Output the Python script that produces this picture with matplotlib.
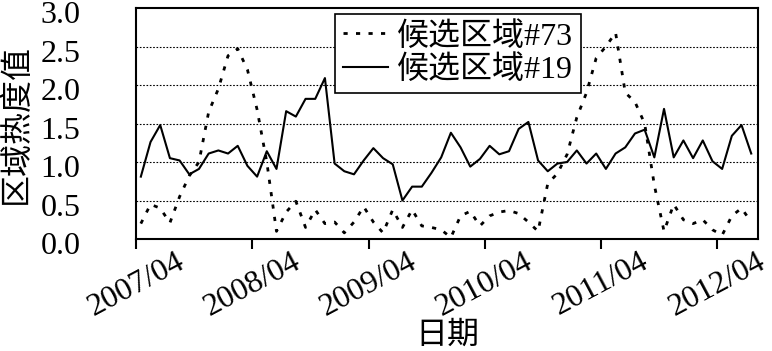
import matplotlib
matplotlib.use("Agg")
import matplotlib.pyplot as plt
from matplotlib.transforms import ScaledTranslation

plt.rcParams['font.family'] = ['Liberation Serif', 'Noto Sans CJK SC']
plt.rcParams['font.size'] = 23

# monthly values, first point mid 2007/04
region73 = [0.20, 0.45, 0.40, 0.21, 0.55, 0.82, 1.00, 1.65, 1.95, 2.38,
            2.47, 2.20, 1.68, 1.00, 0.10, 0.35, 0.49, 0.15, 0.38, 0.20,
            0.22, 0.08, 0.22, 0.42, 0.22, 0.08, 0.38, 0.15, 0.38, 0.17,
            0.15, 0.12, 0.02, 0.30, 0.36, 0.17, 0.30, 0.35, 0.37, 0.33,
            0.22, 0.10, 0.72, 0.85, 1.10, 1.58, 1.90, 2.35, 2.50, 2.68,
            1.90, 1.78, 1.50, 0.70, 0.10, 0.45, 0.25, 0.20, 0.25, 0.12,
            0.05, 0.30, 0.40, 0.22]
region19 = [0.81, 1.26, 1.48, 1.05, 1.02, 0.84, 0.91, 1.11, 1.15, 1.11,
            1.21, 0.95, 0.81, 1.14, 0.91, 1.66, 1.59, 1.82, 1.82, 2.09,
            0.98, 0.88, 0.84, 1.02, 1.18, 1.05, 0.97, 0.50, 0.68, 0.68,
            0.86, 1.06, 1.38, 1.19, 0.94, 1.04, 1.21, 1.10, 1.14, 1.43,
            1.52, 1.02, 0.88, 0.98, 1.00, 1.15, 0.98, 1.11, 0.91, 1.11,
            1.19, 1.37, 1.42, 1.06, 1.69, 1.06, 1.28, 1.05, 1.28, 1.01,
            0.91, 1.34, 1.48, 1.11]
tick_labels = ["2007/04", "2008/04", "2009/04", "2010/04", "2011/04", "2012/04"]
label73 = "候选区域#73"
label19 = "候选区域#19"

months = [i + 0.5 for i in range(len(region19))]
tick_pos = [12 * i for i in range(len(tick_labels))]

fig = plt.figure(figsize=(7.72, 3.51), dpi=100)
ax = fig.add_axes([136 / 772, 1 - 239 / 351, 622 / 772, 231 / 351])

ax.plot(months, region73, color="black", lw=2.0, linestyle=(0, (1.5, 3)), label=label73)
ax.plot(months, region19, color="black", lw=1.5, label=label19)

ax.set_xlim(0, 64.2)
ax.set_ylim(0, 3.0)
ax.tick_params(axis="y", length=0, pad=40)
ax.tick_params(axis="x", length=7, width=1.5, direction="out", pad=-1)
ax.set_yticks([0, 0.5, 1.0, 1.5, 2.0, 2.5, 3.0])
ax.set_yticklabels(["0.0", "0.5", "1.0", "1.5", "2.0", "2.5", "3.0"], va="center_baseline")
ax.set_xticks(tick_pos)
ax.set_xticklabels(tick_labels, rotation=28, ha="center")

# nudge y labels down a touch so the top one is not clipped
shift = ScaledTranslation(0, -3 / 72, fig.dpi_scale_trans)
for lab in ax.get_yticklabels():
    lab.set_transform(lab.get_transform() + shift)

for yv in [0.5, 1.0, 1.5, 2.0, 2.5]:
    ax.axhline(yv, color="black", lw=0.8, linestyle=(0, (1.5, 1.5)), zorder=0)

for s in ax.spines.values():
    s.set_linewidth(1.5)

ax.set_ylabel("区域热度值", labelpad=6)
ax.set_xlabel("日期", labelpad=0)

leg = ax.legend(loc="upper left", bbox_to_anchor=(0.32, 0.975), borderaxespad=0,
                fancybox=False, edgecolor="black", framealpha=1,
                handlelength=1.4, handletextpad=0.3, borderpad=0.25,
                labelspacing=0.12)
leg.get_frame().set_linewidth(1.2)

fig.savefig("out.png", dpi=100)
